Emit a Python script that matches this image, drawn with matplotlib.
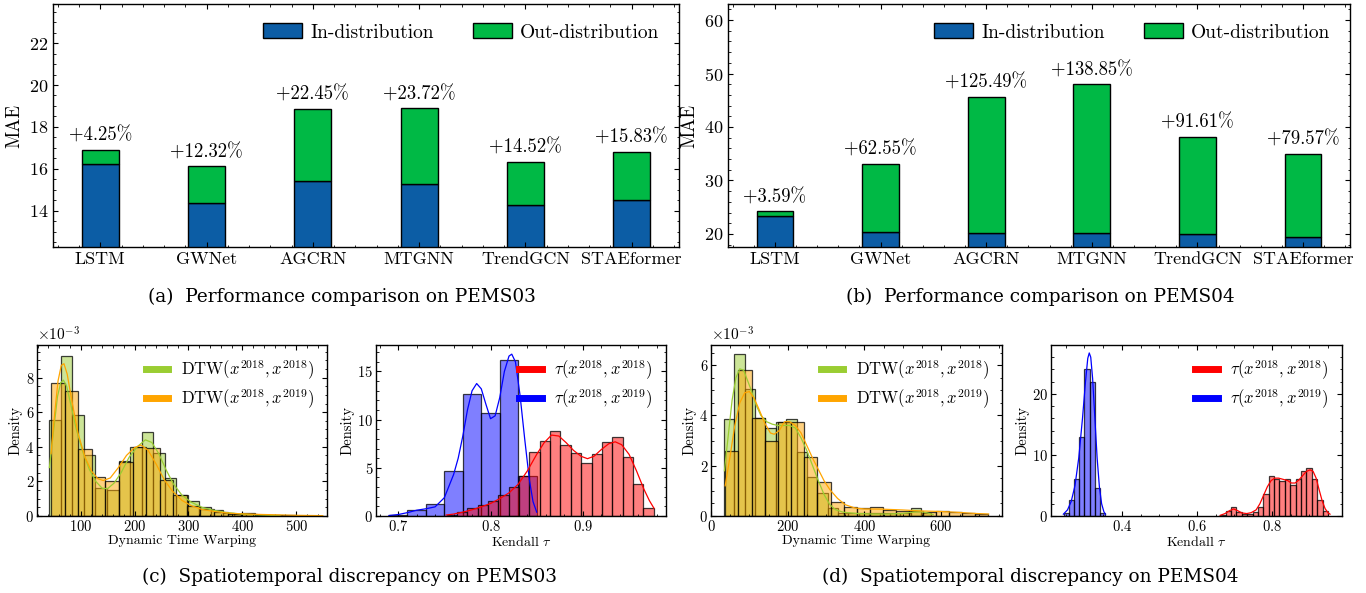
import numpy as np
import matplotlib
matplotlib.use("Agg")
import matplotlib.pyplot as plt
from matplotlib.colors import to_rgba
from matplotlib.lines import Line2D
from matplotlib.patches import Patch

# data ------------------------------------------------------------------------
models = ["LSTM", "GWNet", "AGCRN", "MTGNN", "TrendGCN", "STAEformer"]

pems03_in = [16.23, 14.37, 15.42, 15.27, 14.27, 14.53]
pems03_out = [16.92, 16.14, 18.88, 18.89, 16.34, 16.83]
pems03_gain = ["+4.25%", "+12.32%", "+22.45%", "+23.72%", "+14.52%", "+15.83%"]

pems04_in = [23.35, 20.38, 20.23, 20.09, 19.93, 19.50]
pems04_out = [24.19, 33.13, 45.62, 47.98, 38.19, 35.02]
pems04_gain = ["+3.59%", "+62.55%", "+125.49%", "+138.85%", "+91.61%", "+79.57%"]

# histograms: (first bin edge, bin width) and bar heights
# DTW densities are in units of 1e-3
c_dtw18_bins = (41.5, 21.45)
c_dtw18_hist = [5.55, 9.25, 5.85, 3.55, 1.6, 1.5, 3.2, 4.0, 4.85, 3.65,
                2.2, 1.2, 0.85, 0.5, 0.35, 0.2, 0.12, 0.1, 0.05, 0.03]
c_dtw19_bins = (45.0, 25.2)
c_dtw19_hist = [7.7, 7.25, 3.85, 2.25, 2.0, 3.1, 4.0, 3.95, 2.1, 1.2,
                0.55, 0.4, 0.25, 0.12, 0.15, 0.08, 0.05, 0.03, 0.02, 0.02]
c_dtw18_kde_x = [42, 50, 57, 63, 68, 74, 82, 92, 104, 116, 128, 140, 150, 162, 175,
                 190, 205, 220, 232, 245, 258, 272, 288, 305, 325, 345, 370, 400, 430, 470]
c_dtw18_kde_y = [2.8, 5.0, 6.9, 7.7, 7.85, 7.5, 6.4, 5.0, 3.7, 2.7, 2.0, 1.6, 1.58, 1.9, 2.5,
                 3.4, 4.0, 4.4, 4.25, 3.6, 2.7, 1.85, 1.2, 0.8, 0.5, 0.34, 0.2, 0.11, 0.06, 0.02]
c_dtw19_kde_x = [45, 52, 58, 64, 69, 75, 84, 95, 108, 120, 132, 142, 155, 170, 185,
                 200, 212, 225, 240, 255, 270, 288, 305, 325, 350, 380, 420, 460, 500, 549]
c_dtw19_kde_y = [3.6, 6.0, 7.8, 8.7, 8.8, 8.2, 6.6, 4.8, 3.4, 2.6, 2.15, 2.05, 2.2, 2.8, 3.5,
                 3.95, 4.1, 3.8, 3.0, 2.1, 1.45, 0.9, 0.6, 0.38, 0.25, 0.15, 0.1, 0.07, 0.04, 0.02]

c_tau18_bins = (0.7524, 0.01121)
c_tau18_hist = [0.1, 0.45, 0.8, 1.15, 1.6, 2.2, 3.0, 4.2, 6.68, 7.83,
                8.85, 7.38, 6.57, 5.52, 6.47, 7.69, 8.15, 6.12, 3.29, 0.8]
c_tau19_bins = (0.69, 0.02)
c_tau19_hist = [0.1, 0.6, 1.2, 4.7, 12.7, 10.65, 16.2, 4.2]
c_tau18_kde_x = [0.752, 0.76, 0.77, 0.78, 0.79, 0.80, 0.81, 0.82, 0.83, 0.84, 0.85, 0.858, 0.866,
                 0.874, 0.882, 0.89, 0.898, 0.905, 0.912, 0.92, 0.928, 0.935, 0.942, 0.95,
                 0.958, 0.966, 0.972, 0.977]
c_tau18_kde_y = [0.1, 0.2, 0.4, 0.65, 0.95, 1.3, 1.8, 2.4, 3.3, 4.7, 6.4, 7.6, 8.4,
                 8.3, 7.6, 6.8, 6.2, 5.95, 6.2, 6.9, 7.5, 7.7, 7.4, 6.4,
                 4.7, 2.8, 1.6, 0.8]
c_tau19_kde_x = [0.69, 0.70, 0.71, 0.72, 0.73, 0.74, 0.75, 0.76, 0.765, 0.77, 0.775, 0.78, 0.785,
                 0.79, 0.795, 0.80, 0.805, 0.81, 0.815, 0.82, 0.823, 0.827, 0.832, 0.837,
                 0.842, 0.846, 0.85]
c_tau19_kde_y = [0.05, 0.15, 0.35, 0.6, 0.75, 0.95, 1.9, 4.3, 6.0, 8.3, 11.0, 13.0, 13.75,
                 13.2, 11.6, 10.1, 10.4, 12.3, 15.0, 16.6, 16.8, 16.0, 12.5, 8.0,
                 3.8, 1.5, 0.4]

d_dtw18_bins = (33.9, 27.05)
d_dtw18_hist = [3.84, 6.44, 5.04, 3.9, 3.48, 3.73, 3.87, 2.55, 1.55, 0.9,
                0.3, 0.1, 0.1, 0.1, 0.12, 0.1, 0.1, 0.12, 0.3, 0.1]
d_dtw19_bins = (37.4, 34.3)
d_dtw19_hist = [2.6, 5.8, 3.9, 3.0, 3.75, 3.75, 2.35, 1.35, 0.57, 0.35,
                0.33, 0.35, 0.25, 0.2, 0.18, 0.15, 0.2, 0.15, 0.1, 0.08]
d_dtw18_kde_x = [35, 45, 55, 65, 75, 85, 95, 105, 118, 130, 145, 160, 175, 190, 205, 220,
                 235, 250, 265, 280, 295, 310, 325, 345, 380, 420, 460, 500, 530, 550, 565, 580]
d_dtw18_kde_y = [1.8, 3.2, 4.6, 5.5, 5.85, 5.8, 5.4, 5.0, 4.4, 4.0, 3.75, 3.65, 3.6, 3.6, 3.6, 3.5,
                 3.1, 2.6, 2.0, 1.4, 0.85, 0.45, 0.25, 0.15, 0.1, 0.08, 0.08, 0.1, 0.16, 0.17, 0.12, 0.05]
d_dtw19_kde_x = [37, 50, 62, 75, 88, 100, 112, 125, 140, 155, 165, 178, 192, 205, 220, 235,
                 250, 265, 280, 295, 310, 330, 350, 375, 400, 450, 500, 550, 600, 650, 690, 724]
d_dtw19_kde_y = [1.2, 2.4, 3.6, 4.5, 4.9, 4.95, 4.7, 4.25, 3.7, 3.3, 3.25, 3.4, 3.75, 3.75, 3.6, 3.3,
                 2.8, 2.3, 1.85, 1.4, 1.05, 0.7, 0.45, 0.32, 0.28, 0.27, 0.24, 0.2, 0.18, 0.14, 0.1, 0.08]

d_tau18_bins = (0.6622, 0.01436)
d_tau18_hist = [0.17, 0.9, 1.4, 0.7, 0.33, 0.33, 0.7, 1.4, 3.65, 6.5,
                6.1, 5.7, 6.1, 5.1, 6.1, 7.35, 7.8, 6.1, 2.65, 0.8]
d_tau19_bins = (0.2444, 0.0139)
d_tau19_hist = [0.5, 2.65, 6.1, 13.0, 24.0, 22.0, 4.6, 0.5]
d_tau18_kde_x = [0.662, 0.675, 0.688, 0.698, 0.708, 0.72, 0.733, 0.745, 0.758, 0.768, 0.778, 0.788,
                 0.798, 0.808, 0.818, 0.83, 0.842, 0.852, 0.862, 0.872, 0.882, 0.892, 0.902,
                 0.91, 0.918, 0.926, 0.934, 0.942, 0.95, 0.955]
d_tau18_kde_y = [0.1, 0.4, 0.9, 1.15, 0.9, 0.5, 0.4, 0.55, 1.0, 2.0, 3.4, 4.8,
                 5.8, 6.2, 6.2, 6.0, 5.8, 5.4, 5.4, 5.9, 6.6, 7.3, 7.55,
                 7.3, 6.2, 4.3, 2.5, 1.2, 0.5, 0.3]
d_tau19_kde_x = [0.244, 0.255, 0.265, 0.275, 0.285, 0.295, 0.303, 0.309, 0.313, 0.317, 0.322,
                 0.328, 0.334, 0.34, 0.346, 0.352, 0.356]
d_tau19_kde_y = [0.3, 1.0, 2.4, 5.0, 9.5, 16.0, 22.0, 25.8, 26.7, 26.0, 22.5,
                 16.0, 9.5, 4.8, 2.0, 0.7, 0.3]

dtw_labels = [r"DTW$(x^{2018}, x^{2018})$", r"DTW$(x^{2018}, x^{2019})$"]
tau_labels = [r"$\tau(x^{2018}, x^{2018})$", r"$\tau(x^{2018}, x^{2019})$"]

# style -----------------------------------------------------------------------
plt.rcParams.update({
    "font.family": ["cmr10", "DejaVu Serif"],
    "mathtext.fontset": "cm",
    "axes.formatter.use_mathtext": True,
    "axes.unicode_minus": False,
    "axes.linewidth": 1.0,
    "xtick.direction": "in",
    "ytick.direction": "in",
    "xtick.top": True,
    "ytick.right": True,
    "xtick.minor.visible": True,
    "ytick.minor.visible": True,
    "xtick.major.size": 3.5,
    "ytick.major.size": 3.5,
    "xtick.minor.size": 1.8,
    "ytick.minor.size": 1.8,
    "xtick.major.width": 0.8,
    "ytick.major.width": 0.8,
})

BLUE = "#0C5DA5"
GREEN = "#00B945"
W, H = 1366, 593
fig = plt.figure(figsize=(W / 100, H / 100), dpi=100)


def px_axes(l, t, r, b):
    return fig.add_axes([l / W, 1 - b / H, (r - l) / W, (b - t) / H])


# defs ------------------------------------------------------------------------
def bar_panel(ax, in_vals, out_vals, gains, ylim, yticks):
    x = np.arange(len(models))
    in_vals = np.array(in_vals)
    out_vals = np.array(out_vals)
    ax.bar(x, in_vals, width=0.35, color=BLUE, edgecolor="black", linewidth=1.0)
    ax.bar(x, out_vals - in_vals, bottom=in_vals, width=0.35, color=GREEN,
           edgecolor="black", linewidth=1.0)
    for xi, top, g in zip(x, out_vals, gains):
        ax.annotate(g, (xi, top), xytext=(0, 3.5), textcoords="offset points",
                    ha="center", va="bottom", fontsize=13.5)
    ax.set_xticks(x)
    ax.set_xticklabels(models, fontsize=13)
    ax.set_xlim(-0.445, len(models) - 0.555)
    ax.set_ylim(*ylim)
    ax.set_yticks(yticks)
    ax.tick_params(axis="y", labelsize=13)
    ax.set_ylabel("MAE", fontsize=13.5, labelpad=4)
    handles = [Patch(facecolor=BLUE, edgecolor="black"),
               Patch(facecolor=GREEN, edgecolor="black")]
    ax.legend(handles, ["In-distribution", "Out-distribution"], loc="upper right",
              ncol=2, frameon=False, fontsize=14, handlelength=2.0, handleheight=0.8,
              columnspacing=2.0, handletextpad=0.45, borderaxespad=0.6)


def hist(ax, bins, heights, color, scale=1.0):
    start, width = bins
    edges = start + width * np.arange(len(heights) + 1)
    ax.bar(edges[:-1], np.array(heights) * scale, width=width, align="edge",
           facecolor=to_rgba(color, 0.5), edgecolor=(0, 0, 0, 0.75), linewidth=0.9)


def kde(ax, xs, ys, color, scale=1.0):
    ax.plot(xs, np.array(ys) * scale, color=color, linewidth=0.9)


def hist_legend(ax, colors, labels):
    handles = [Line2D([], [], color=c, linewidth=5) for c in colors]
    ax.legend(handles, labels, loc="upper right", frameon=False, fontsize=12,
              handlelength=1.35, handletextpad=0.75, labelspacing=0.35, borderaxespad=0.4)


# top bar charts ---------------------------------------------------------------
ax_a = px_axes(53, 4, 679, 247)
bar_panel(ax_a, pems03_in, pems03_out, pems03_gain, (12.28, 23.86), [14, 16, 18, 20, 22])
ax_b = px_axes(728, 4, 1350, 247)
bar_panel(ax_b, pems04_in, pems04_out, pems04_gain, (17.55, 63.0), [20, 30, 40, 50, 60])

# bottom histograms -------------------------------------------------------------
dtw_colors = ["yellowgreen", "orange"]
tau_colors = ["red", "blue"]

ax_c1 = px_axes(37, 345, 327, 516)
hist(ax_c1, c_dtw18_bins, c_dtw18_hist, dtw_colors[0], 1e-3)
hist(ax_c1, c_dtw19_bins, c_dtw19_hist, dtw_colors[1], 1e-3)
kde(ax_c1, c_dtw18_kde_x, c_dtw18_kde_y, dtw_colors[0], 1e-3)
kde(ax_c1, c_dtw19_kde_x, c_dtw19_kde_y, dtw_colors[1], 1e-3)
ax_c1.set_xlim(19, 557)
ax_c1.set_ylim(0, 9.88e-3)
ax_c1.set_xticks([100, 200, 300, 400, 500])
ax_c1.set_yticks([0, 2e-3, 4e-3, 6e-3, 8e-3])
ax_c1.set_xlabel("Dynamic Time Warping", fontsize=10, labelpad=1)
hist_legend(ax_c1, dtw_colors, dtw_labels)

ax_c2 = px_axes(376, 345, 666, 516)
hist(ax_c2, c_tau19_bins, c_tau19_hist, tau_colors[1])
hist(ax_c2, c_tau18_bins, c_tau18_hist, tau_colors[0])
kde(ax_c2, c_tau19_kde_x, c_tau19_kde_y, tau_colors[1])
kde(ax_c2, c_tau18_kde_x, c_tau18_kde_y, tau_colors[0])
ax_c2.set_xlim(0.676, 0.990)
ax_c2.set_ylim(0, 17.75)
ax_c2.set_xticks([0.7, 0.8, 0.9])
ax_c2.set_yticks([0, 5, 10, 15])
ax_c2.set_xlabel(r"Kendall $\tau$", fontsize=10, labelpad=1)
hist_legend(ax_c2, tau_colors, tau_labels)

ax_d1 = px_axes(711, 345, 1002, 516)
hist(ax_d1, d_dtw18_bins, d_dtw18_hist, dtw_colors[0], 1e-3)
hist(ax_d1, d_dtw19_bins, d_dtw19_hist, dtw_colors[1], 1e-3)
kde(ax_d1, d_dtw18_kde_x, d_dtw18_kde_y, dtw_colors[0], 1e-3)
kde(ax_d1, d_dtw19_kde_x, d_dtw19_kde_y, dtw_colors[1], 1e-3)
ax_d1.set_xlim(0, 759)
ax_d1.set_ylim(0, 6.8e-3)
ax_d1.set_xticks([0, 200, 400, 600])
ax_d1.set_yticks([0, 2e-3, 4e-3, 6e-3])
ax_d1.set_xlabel("Dynamic Time Warping", fontsize=10, labelpad=1)
hist_legend(ax_d1, dtw_colors, dtw_labels)

ax_d2 = px_axes(1051, 345, 1342, 516)
hist(ax_d2, d_tau19_bins, d_tau19_hist, tau_colors[1])
hist(ax_d2, d_tau18_bins, d_tau18_hist, tau_colors[0])
kde(ax_d2, d_tau19_kde_x, d_tau19_kde_y, tau_colors[1])
kde(ax_d2, d_tau18_kde_x, d_tau18_kde_y, tau_colors[0])
ax_d2.set_xlim(0.211, 0.987)
ax_d2.set_ylim(0, 28.0)
ax_d2.set_xticks([0.4, 0.6, 0.8])
ax_d2.set_yticks([0, 10, 20])
ax_d2.set_xlabel(r"Kendall $\tau$", fontsize=10, labelpad=1)
hist_legend(ax_d2, tau_colors, tau_labels)

for ax in (ax_c1, ax_d1):
    ax.ticklabel_format(axis="y", style="sci", scilimits=(0, 0))
    ax.yaxis.get_offset_text().set_fontsize(11)
for ax in (ax_c1, ax_c2, ax_d1, ax_d2):
    ax.tick_params(labelsize=10.5, pad=2)
    ax.set_ylabel("Density", fontsize=10.5, labelpad=2)

# captions ------------------------------------------------------------------------
cap = dict(ha="center", va="center", fontsize=13.3, family="DejaVu Serif")
fig.text(342 / W, 1 - 297 / H, "(a)  Performance comparison on PEMS03", **cap)
fig.text(1040 / W, 1 - 297 / H, "(b)  Performance comparison on PEMS04", **cap)
fig.text(350 / W, 1 - 577 / H, "(c)  Spatiotemporal discrepancy on PEMS03", **cap)
fig.text(1030 / W, 1 - 577 / H, "(d)  Spatiotemporal discrepancy on PEMS04", **cap)

fig.savefig("out.png", dpi=100)
